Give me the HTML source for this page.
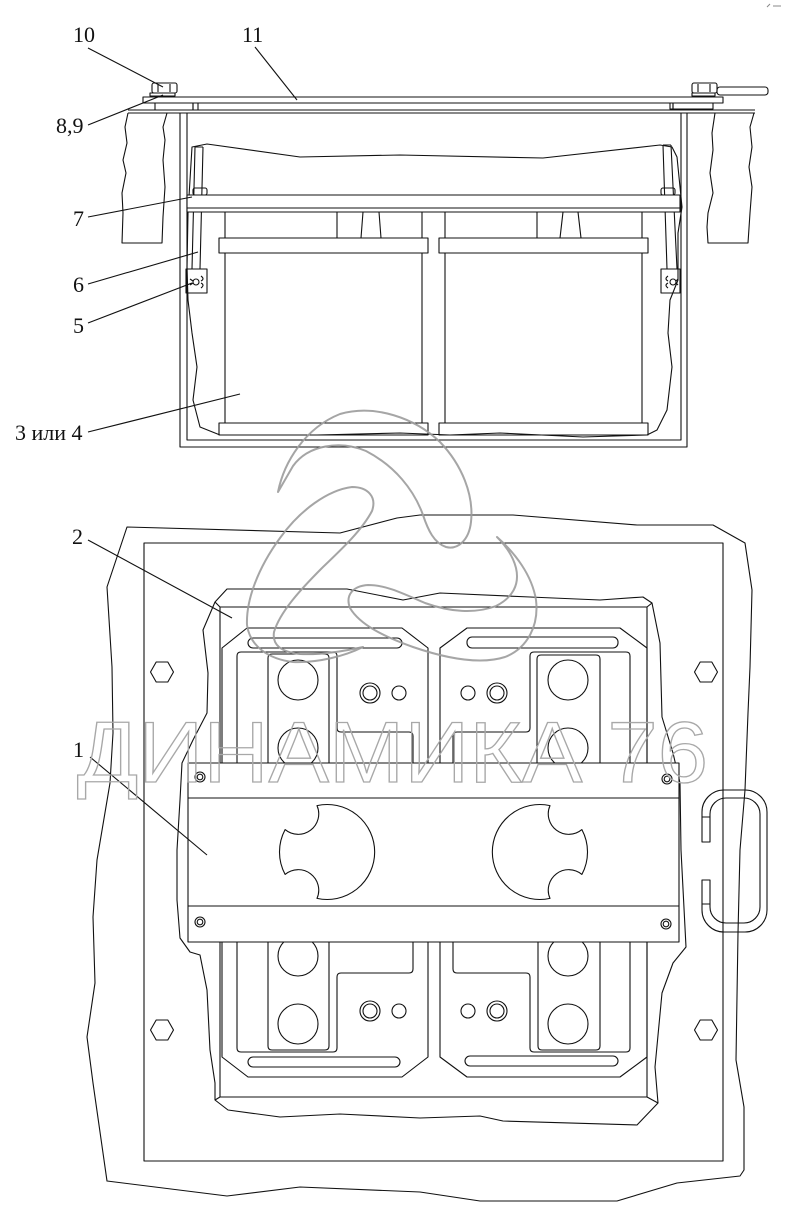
<!DOCTYPE html>
<html>
<head>
<meta charset="utf-8">
<style>
html,body{margin:0;padding:0;background:#fff;}
svg{display:block;}
text{font-family:"Liberation Serif","DejaVu Serif",serif;}
</style>
</head>
<body>
<svg width="786" height="1210" viewBox="0 0 786 1210" xmlns="http://www.w3.org/2000/svg">
<rect width="786" height="1210" fill="#fff"/>

<g fill="none" stroke="#111" stroke-width="1.1" stroke-linejoin="round">
<!-- ============ TOP SECTION ============ -->
<path d="M128,113 L125,127 L127,143 L123,160 L126,173 L122,193 L123,213 L122,243 L162,243 L163,217 L165,187 L163,160 L165,140 L163,127 L167,113"/>
<path d="M715,113 L712,133 L713,150 L710,173 L713,193 L708,213 L707,227 L708,243 L748,243 L750,213 L752,187 L749,167 L752,147 L750,127 L754,113"/>
<line x1="128" y1="110" x2="755" y2="110"/>
<line x1="128" y1="113" x2="755" y2="113"/>
<rect x="143" y="97" width="580" height="6"/>
<rect x="155" y="103" width="38" height="7"/>
<rect x="193" y="103" width="5" height="7"/>
<rect x="670" y="103" width="3" height="6"/>
<rect x="673" y="103" width="40" height="6"/>
<rect x="152" y="83" width="25" height="10" rx="2"/>
<line x1="158" y1="84" x2="158" y2="92"/><line x1="170" y1="84" x2="170" y2="92"/>
<rect x="150" y="93" width="25" height="3"/>
<rect x="692" y="83" width="25" height="10" rx="2"/>
<line x1="698" y1="84" x2="698" y2="92"/><line x1="710" y1="84" x2="710" y2="92"/>
<rect x="692" y="93" width="23" height="3"/>
<rect x="717" y="87" width="51" height="8" rx="3"/>
<path d="M180,113 L180,447 L687,447 L687,113"/>
<path d="M187,113 L187,440 L681,440 L681,113"/>
<path d="M192,147 L207,144 L300,157 L400,155 L543,158 L660,145 L672,147 L677,157 L680,187 L682,207 L678,233 L678,280 L670,300 L668,333 L672,367 L667,410 L657,430 L647,435 L583,437 L500,433 L450,435 L400,433 L317,435 L267,435 L220,435 L200,427 L193,400 L197,367 L192,333 L188,300 L187,267 L188,213 Z"/>
<path d="M195,147 L192,269 M203,147 L200,269 M195,147 L203,147"/>
<path d="M663,145 L667,269 M671,145 L677,269 M663,145 L671,145"/>
<rect x="187" y="195" width="493" height="17" fill="#fff"/>
<line x1="187" y1="208" x2="680" y2="208"/>
<rect x="193" y="188" width="14" height="7" rx="2"/>
<rect x="661" y="188" width="14" height="7" rx="2"/>
<rect x="186" y="269" width="21" height="24"/>
<circle cx="196" cy="282" r="3"/>
<path d="M190,279 L193,281 M190,285 L193,283 M201,276 Q205,279 201,281 M201,288 Q205,285 201,283"/>
<rect x="661" y="269" width="19" height="24"/>
<circle cx="673" cy="282" r="3"/>
<path d="M678,279 L676,281 M678,285 L676,283 M668,276 Q664,279 668,281 M668,288 Q664,285 668,283"/>
<line x1="225" y1="212" x2="225" y2="423"/>
<line x1="422" y1="212" x2="422" y2="423"/>
<line x1="445" y1="212" x2="445" y2="423"/>
<line x1="642" y1="212" x2="642" y2="423"/>
<rect x="219" y="238" width="209" height="15" fill="#fff"/>
<rect x="439" y="238" width="209" height="15" fill="#fff"/>
<rect x="219" y="423" width="209" height="12"/>
<rect x="439" y="423" width="209" height="12"/>
<path d="M337,212 L337,238 M363,212 L361,238 M379,212 L381,238"/>
<path d="M537,212 L537,238 M563,212 L560,238 M578,212 L581,238"/>

<!-- ============ BOTTOM SECTION ============ -->
<path d="M127,527 L340,533 L397,518 L420,515 L513,515 L637,525 L713,525 L745,543 L752,590 L750,667 L748,713 L745,790 L740,850 L738,933 L736,1060 L744,1107 L744,1170 L740,1176 L677,1183 L617,1201 L480,1201 L420,1192 L300,1187 L227,1196 L107,1181 L93,1083 L87,1037 L95,983 L93,917 L97,860 L110,783 L113,733 L112,667 L107,587 Z"/>
<rect x="144" y="543" width="579" height="618"/>
<polygon points="150.5,672 156.2,662 167.8,662 173.5,672 167.8,682 156.2,682"/>
<polygon points="694.5,672 700.2,662 711.8,662 717.5,672 711.8,682 700.2,682"/>
<polygon points="150.5,1030 156.2,1020 167.8,1020 173.5,1030 167.8,1040 156.2,1040"/>
<polygon points="694.5,1030 700.2,1020 711.8,1020 717.5,1030 711.8,1040 700.2,1040"/>
<path d="M227,589 L347,589 L403,600 L440,593 L530,597 L600,600 L643,597 L652,603 L660,643 L662,717 L673,753 L680,783 L681,850 L686,947 L673,963 L662,993 L655,1067 L658,1103 L637,1125 L503,1121 L480,1116 L420,1118 L340,1114 L280,1117 L228,1110 L215,1100 L215,1083 L210,1050 L207,990 L200,955 L190,952 L180,938 L177,900 L177,850 L180,800 L182,763 L193,740 L207,713 L208,673 L203,630 L215,602 Z"/>
<rect x="220" y="607" width="427" height="490"/>
<path d="M215,602 L220,607 M652,603 L647,607 M215,1100 L220,1097 M658,1103 L647,1097"/>
<path d="M222,648 L247,628 L402,628 L428,648 L428,1057 L402,1077 L248,1077 L222,1057 Z"/>
<path d="M440,648 L467,628 L620,628 L647,648 L647,1057 L620,1077 L467,1077 L440,1057 Z"/>
<rect x="248" y="638" width="154" height="10" rx="5"/>
<rect x="248" y="1057" width="152" height="10" rx="5"/>
<rect x="467" y="637" width="151" height="11" rx="5"/>
<rect x="465" y="1056" width="153" height="10" rx="5"/>
<path d="M237,763 L237,656 Q237,652 241,652 L333,652 Q337,652 337,656 L337,728 Q337,732 341,732 L409,732 Q413,732 413,736 L413,763"/>
<path d="M268,763 L268,658 Q268,654 272,654 L325,654 Q329,654 329,658 L329,763"/>
<circle cx="298" cy="680" r="20"/><circle cx="298" cy="748" r="20"/>
<circle cx="370" cy="693" r="10"/><circle cx="370" cy="693" r="7"/><circle cx="399" cy="693" r="7"/>
<path d="M453,763 L453,736 Q453,732 457,732 L526,732 Q530,732 530,728 L530,656 Q530,652 534,652 L626,652 Q630,652 630,656 L630,763"/>
<path d="M537,763 L537,659 Q537,655 541,655 L596,655 Q600,655 600,659 L600,763"/>
<circle cx="568" cy="680" r="20"/><circle cx="568" cy="748" r="20"/>
<circle cx="468" cy="693" r="7"/><circle cx="497" cy="693" r="10"/><circle cx="497" cy="693" r="7"/>
<path d="M237,942 L237,1048 Q237,1052 241,1052 L333,1052 Q337,1052 337,1048 L337,977 Q337,973 341,973 L409,973 Q413,973 413,969 L413,942"/>
<path d="M268,942 L268,1046 Q268,1050 272,1050 L325,1050 Q329,1050 329,1046 L329,942"/>
<circle cx="298" cy="956" r="20"/><circle cx="298" cy="1024" r="20"/>
<circle cx="370" cy="1011" r="10"/><circle cx="370" cy="1011" r="7"/><circle cx="399" cy="1011" r="7"/>
<path d="M453,942 L453,969 Q453,973 457,973 L526,973 Q530,973 530,977 L530,1048 Q530,1052 534,1052 L626,1052 Q630,1052 630,1048 L630,942"/>
<path d="M538,942 L538,1046 Q538,1050 542,1050 L596,1050 Q600,1050 600,1046 L600,942"/>
<circle cx="568" cy="956" r="20"/><circle cx="568" cy="1024" r="20"/>
<circle cx="468" cy="1011" r="7"/><circle cx="497" cy="1011" r="10"/><circle cx="497" cy="1011" r="7"/>

<!-- clamp bar 1 -->
<rect x="188" y="763" width="491" height="179" fill="#fff"/>
<line x1="188" y1="798" x2="679" y2="798"/>
<line x1="188" y1="906" x2="679" y2="906"/>
<path d="M317,805.6 A47.5,47.5 0 1 1 317,898.4 A20.5,20.5 0 0 0 285.1,874.4 A47.5,47.5 0 0 1 285.1,829.6 A20.5,20.5 0 0 0 317,805.6 Z"/>
<path d="M550,805.6 A47.5,47.5 0 1 0 550,898.4 A20.5,20.5 0 0 1 581.9,874.4 A47.5,47.5 0 0 0 581.9,829.6 A20.5,20.5 0 0 1 550,805.6 Z"/>
<circle cx="200" cy="777" r="5"/><circle cx="200" cy="777" r="2.8"/>
<circle cx="667" cy="779" r="5"/><circle cx="667" cy="779" r="2.8"/>
<circle cx="200" cy="922" r="5"/><circle cx="200" cy="922" r="2.8"/>
<circle cx="666" cy="924" r="5"/><circle cx="666" cy="924" r="2.8"/>
<!-- handle loop -->
<path d="M702,817 L702,812 A22,22 0 0 1 724,790 L745,790 A22,22 0 0 1 767,812 L767,910 A22,22 0 0 1 745,932 L724,932 A22,22 0 0 1 702,910 L702,904"/>
<path d="M710,817 L710,814 A16,16 0 0 1 726,798 L744,798 A16,16 0 0 1 760,814 L760,907 A16,16 0 0 1 744,923 L726,923 A16,16 0 0 1 710,907 L710,904"/>
<rect x="702" y="817" width="8" height="25"/>
<rect x="702" y="880" width="8" height="24"/>

<!-- leaders -->
<path d="M88,48 L163,87"/>
<path d="M255,47 L297,100"/>
<path d="M88,125 L163,95"/>
<path d="M88,217 L192,197"/>
<path d="M88,284 L198,252"/>
<path d="M88,323 L192,283"/>
<path d="M88,432 L240,394"/>
<path d="M88,540 L232,618"/>
<path d="M90,757 L207,855"/>
</g>

<g font-size="22" fill="#111">
<text x="73" y="42">10</text>
<text x="242" y="42">11</text>
<text x="56" y="133">8,9</text>
<text x="73" y="226">7</text>
<text x="73" y="292">6</text>
<text x="73" y="333">5</text>
<text x="15" y="440">3 или 4</text>
<text x="72" y="544">2</text>
<text x="73" y="757">1</text>
</g>

<!-- watermark -->
<g fill="none" stroke="#9c9c9c" stroke-width="2" stroke-linejoin="round" stroke-linecap="round" opacity="0.9">
<path d="M278,492 C284,462 305,428 340,414 C375,404 415,418 440,442 C462,465 474,495 471,522 C469,540 458,550 446,547 C434,543 428,530 423,515 C414,490 395,466 366,451 C340,440 308,445 293,466 Z"/>
<path d="M363,647 C345,656 318,663 293,662 C268,659 250,646 247,625 C246,600 258,568 280,538 C300,510 328,490 352,487 C368,487 377,497 372,511 C362,530 343,548 322,568 C300,590 280,612 274,632 C272,645 281,652 300,654 C322,655 345,651 363,647 Z"/>
<path d="M497,537 C515,553 532,575 536,600 C539,625 528,648 505,657 C480,665 445,658 413,647 C385,637 360,625 350,608 C345,595 353,586 368,585 C385,585 400,592 425,603 C450,612 475,614 496,606 C512,598 520,585 516,568 C513,556 506,546 497,537 Z"/>
</g>
<text x="77" y="782" font-size="86" textLength="631" lengthAdjust="spacingAndGlyphs" fill="none" stroke="#a8a8a8" stroke-width="1.3" style="font-family:'Liberation Sans','DejaVu Sans',sans-serif">ДИНАМИКА 76</text>

<path d="M767,7 L770,4 M773,6 L781,6" stroke="#888" stroke-width="1"/>
</svg>
</body>
</html>
